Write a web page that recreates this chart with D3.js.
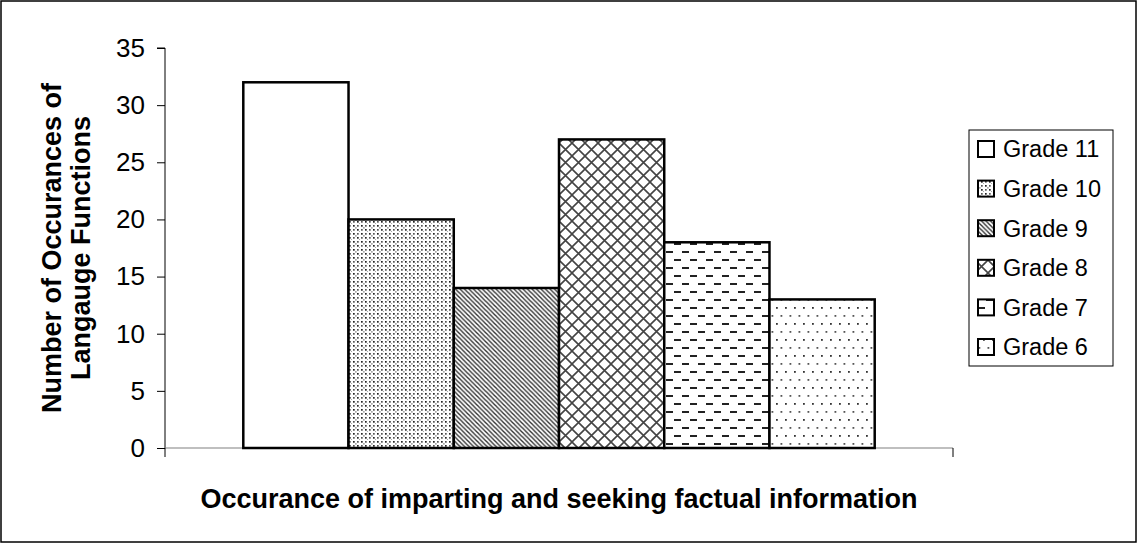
<!DOCTYPE html>
<html>
<head>
<meta charset="utf-8">
<script src="https://cdn.jsdelivr.net/npm/d3@7"></script>
<style>
  html, body { margin: 0; padding: 0; background: #fff; }
  svg { display: block; font-family: "Liberation Sans", Arial, sans-serif; }
</style>
</head>
<body>
<svg id="chart" width="1138" height="544"></svg>
<script>
const categories = ["Occurance of imparting and seeking factual information"];
const series = ["Grade 11", "Grade 10", "Grade 9", "Grade 8", "Grade 7", "Grade 6"];
const values = [32, 20, 14, 27, 18, 13];
const yTicks = [0, 5, 10, 15, 20, 25, 30, 35];
const yTitleLines = ["Number of Occurances of", "Langauge Functions"];
const patternIds = ["p-none", "p-dense", "p-diag", "p-lattice", "p-dash", "p-sparse"];

const svg = d3.select("#chart");
const W = 1138, H = 544;
const plot = { left: 165, right: 953, top: 48, bottom: 448 };

// patterns
const defs = svg.append("defs");
defs.append("pattern").attr("id", "p-none").attr("patternUnits", "userSpaceOnUse")
  .attr("width", 4).attr("height", 4)
  .append("rect").attr("width", 4).attr("height", 4).attr("fill", "#fff");

const pd = defs.append("pattern").attr("id", "p-dense").attr("patternUnits", "userSpaceOnUse")
  .attr("width", 8).attr("height", 8);
pd.append("rect").attr("width", 8).attr("height", 8).attr("fill", "#fff");
[[1,1],[5,5],[5,1],[1,5],[3,3],[7,7]].forEach(([x,y],i) => {
  pd.append("rect").attr("x", x).attr("y", y).attr("width", 1.7).attr("height", 1.7)
    .attr("fill", i < 2 ? "#222" : (i < 4 ? "#555" : "#aaa"));
});

const pg = defs.append("pattern").attr("id", "p-diag").attr("patternUnits", "userSpaceOnUse")
  .attr("width", 4.5).attr("height", 4.5);
pg.append("rect").attr("width", 4.5).attr("height", 4.5).attr("fill", "#fff");
pg.append("path").attr("d", "M-1,-1 L5.5,5.5 M-1,3.5 L1,5.5 M3.5,-1 L5.5,1").attr("stroke", "#333").attr("stroke-width", 1.4);

const pl = defs.append("pattern").attr("id", "p-lattice").attr("patternUnits", "userSpaceOnUse")
  .attr("width", 13).attr("height", 13);
pl.append("rect").attr("width", 13).attr("height", 13).attr("fill", "#fff");
pl.append("path").attr("d", "M0,0 L13,13 M13,0 L0,13").attr("stroke", "#444").attr("stroke-width", 1.6);

const pdash = defs.append("pattern").attr("id", "p-dash").attr("patternUnits", "userSpaceOnUse")
  .attr("width", 16).attr("height", 16);
pdash.append("rect").attr("width", 16).attr("height", 16).attr("fill", "#fff");
pdash.append("path").attr("d", "M2,4 H9 M10,12 H17 M-6,12 H1").attr("stroke", "#222").attr("stroke-width", 1.8);

const ps = defs.append("pattern").attr("id", "p-sparse").attr("patternUnits", "userSpaceOnUse")
  .attr("width", 9).attr("height", 16);
ps.append("rect").attr("width", 9).attr("height", 16).attr("fill", "#fff");
ps.append("rect").attr("x", 2).attr("y", 3).attr("width", 1.8).attr("height", 1.8).attr("fill", "#333");
ps.append("rect").attr("x", 6.5).attr("y", 11).attr("width", 1.8).attr("height", 1.8).attr("fill", "#555");

// outer border
svg.append("rect").attr("x", 1).attr("y", 1).attr("width", W - 3).attr("height", H - 3)
  .attr("fill", "none").attr("stroke", "#000").attr("stroke-width", 1.5);

// scales
const y = d3.scaleLinear().domain([0, 35]).range([plot.bottom, plot.top]);
const x0 = d3.scaleBand().domain(categories).range([plot.left, plot.right])
  .paddingInner(0).paddingOuter(0.124);
const x1 = d3.scaleBand().domain(series).range([0, x0.bandwidth()]).padding(0);

// y axis
const yAxis = d3.axisLeft(y).tickValues(yTicks).tickSize(8).tickPadding(12);
const gy = svg.append("g").attr("transform", `translate(${plot.left},0)`).call(yAxis);
gy.select(".domain").attr("stroke", "#000").attr("stroke-width", 1).attr("d", `M-8,${y(35)}H0V${y(0)}`);
gy.selectAll(".tick line").attr("stroke", "#000");
gy.selectAll(".tick text").attr("font-size", 26).attr("fill", "#000")
  .attr("font-family", "'Liberation Sans', Arial, sans-serif");

// x axis
const gx = svg.append("g").attr("transform", `translate(0,${plot.bottom})`);
gx.append("line").attr("x1", plot.left).attr("x2", plot.right).attr("y1", 0).attr("y2", 0)
  .attr("stroke", "#808080").attr("stroke-width", 1.2);
[plot.left, plot.right].forEach(px => {
  gx.append("line").attr("x1", px).attr("x2", px).attr("y1", 0).attr("y2", 9)
    .attr("stroke", "#000").attr("stroke-width", 1);
});

// bars
svg.append("g").selectAll("rect").data(series).join("rect")
  .attr("x", d => x0(categories[0]) + x1(d))
  .attr("y", (d, i) => y(values[i]))
  .attr("width", x1.bandwidth())
  .attr("height", (d, i) => y(0) - y(values[i]))
  .attr("fill", (d, i) => `url(#${patternIds[i]})`)
  .attr("stroke", "#000").attr("stroke-width", 2.5);

// x title
svg.append("text").attr("x", (plot.left + plot.right) / 2).attr("y", 508)
  .attr("text-anchor", "middle").attr("font-size", 27).attr("font-weight", "bold")
  .text(categories[0]);

// y title
const yt = svg.append("text").attr("transform", `translate(61,${(plot.top + plot.bottom) / 2}) rotate(-90)`)
  .attr("text-anchor", "middle").attr("font-size", 27).attr("font-weight", "bold");
yTitleLines.forEach((t, i) => {
  yt.append("tspan").attr("x", 0).attr("dy", i === 0 ? 0 : 29).text(t);
});

// legend
const lg = svg.append("g");
const legTop = 130, legLeft = 969, legW = 144, legH = 236, legStep = 39.6;
lg.append("rect").attr("x", legLeft).attr("y", legTop).attr("width", legW).attr("height", legH)
  .attr("fill", "#fff").attr("stroke", "#000").attr("stroke-width", 1);
series.forEach((s, i) => {
  const cy = 149 + i * legStep;
  lg.append("rect").attr("x", 978).attr("y", cy - 8).attr("width", 16).attr("height", 16)
    .attr("fill", `url(#${patternIds[i]})`).attr("stroke", "#000").attr("stroke-width", 2);
  lg.append("text").attr("x", 1003).attr("y", cy).attr("dy", "0.36em")
    .attr("font-size", 23.5).text(s);
});
</script>
</body>
</html>
